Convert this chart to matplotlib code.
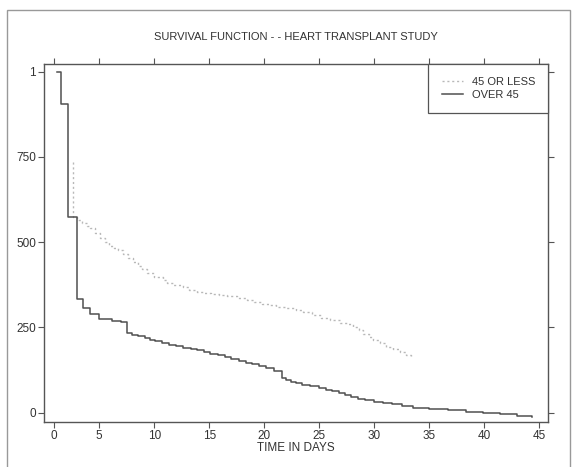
#
# Survival function plot -- heart transplant study (two age groups)
#

import matplotlib
matplotlib.use("Agg")
import matplotlib.pyplot as plt
from matplotlib.patches import Rectangle


# Kaplan-Meier style step data
# Age 45 or less (dotted line)
less45_days = [2.64, 2.64, 2.94, 3.4, 3.85, 4.2, 4.61, 5.06, 5.5, 5.9, 6.3, 6.73,
               7.2, 7.64, 8.1, 8.5, 8.9, 9.3, 10.0, 10.8, 11.2, 11.7, 12.6, 13.2,
               13.85, 14.5, 15.2, 15.9, 16.6, 17.5, 18.4, 19.1, 19.8, 20.5, 21.1,
               22.0, 22.9, 23.5, 24.3, 25.2, 26.0, 26.9, 27.5, 28.1, 28.6, 29.0,
               29.5, 29.9, 30.5, 31.1, 31.7, 32.3, 32.9, 33.3]
less45_surv = [0.736, 0.575, 0.566, 0.556, 0.548, 0.541, 0.526, 0.513, 0.50, 0.49,
               0.484, 0.477, 0.465, 0.453, 0.441, 0.43, 0.42, 0.409, 0.398, 0.389,
               0.381, 0.374, 0.368, 0.361, 0.355, 0.352, 0.349, 0.345, 0.342, 0.336,
               0.33, 0.325, 0.32, 0.315, 0.311, 0.306, 0.301, 0.296, 0.287, 0.277,
               0.271, 0.264, 0.259, 0.252, 0.243, 0.232, 0.222, 0.213, 0.204, 0.194,
               0.186, 0.179, 0.168, 0.16]

# Age over 45 (solid line)
over45_days = [1.13, 1.52, 2.13, 2.94, 3.55, 4.15, 5.0, 6.2, 7.0, 7.54, 8.0, 8.49,
               9.12, 9.6, 10.07, 10.7, 11.3, 12.0, 12.6, 13.3, 13.9, 14.5, 15.1,
               15.8, 16.4, 17.0, 17.7, 18.3, 18.9, 19.5, 20.2, 20.9, 21.6, 22.0,
               22.4, 22.9, 23.4, 24.2, 25.0, 25.6, 26.2, 26.8, 27.3, 27.9, 28.5,
               29.2, 30.0, 30.8, 31.6, 32.5, 33.5, 35.0, 36.7, 38.3, 39.9, 41.4,
               43.0, 44.3]
over45_surv = [1.0, 0.904, 0.575, 0.333, 0.306, 0.288, 0.274, 0.269, 0.266, 0.233,
               0.229, 0.226, 0.218, 0.214, 0.209, 0.204, 0.199, 0.195, 0.19, 0.187,
               0.183, 0.178, 0.173, 0.168, 0.162, 0.157, 0.152, 0.147, 0.142, 0.136,
               0.13, 0.122, 0.101, 0.096, 0.091, 0.087, 0.082, 0.077, 0.072, 0.067,
               0.0625, 0.057, 0.051, 0.046, 0.041, 0.036, 0.032, 0.028, 0.024,
               0.019, 0.014, 0.011, 0.007, 0.003, -0.001, -0.005, -0.009, -0.0115]

# Axis ticks (the old plotter put the "0" a little right of the axis)
xtick_pos = [0.9, 5, 10, 15, 20, 25, 30, 35, 40, 45]
xtick_labels = ["0", "5", "10", "15", "20", "25", "30", "35", "40", "45"]
ytick_pos = [0, 0.25, 0.5, 0.75, 1.0]
ytick_labels = ["0", "250", "500", "750", "1"]

plt.rcParams["font.family"] = ["Liberation Sans Narrow", "Liberation Sans", "DejaVu Sans"]

fig = plt.figure(figsize=(5.75, 4.67), dpi=100)
ax = fig.add_axes([0.077, 0.0964, 0.8766, 0.7666])

ax.step(less45_days, less45_surv, where="post", color="#b8b8b8",
        linewidth=1.0, linestyle=(0, (1.5, 2.0)), label="45 OR LESS")
ax.step(over45_days, over45_surv, where="post", color="#505050",
        linewidth=1.1, label="OVER 45")

ax.set_xlim(0, 45.82)
ax.set_ylim(-0.0273, 1.0226)

ax.set_xticks(xtick_pos)
ax.set_xticklabels(xtick_labels)
ax.set_yticks(ytick_pos)
ax.set_yticklabels(ytick_labels)
ax.tick_params(direction="out", length=4, width=0.8, color="#555555",
               labelsize=8.5, labelcolor="#333333", pad=2,
               top=True, right=True, labeltop=False, labelright=False)

for s in ax.spines.values():
    s.set_color("#555555")
    s.set_linewidth(1.0)

ax.set_title("SURVIVAL FUNCTION - - HEART TRANSPLANT STUDY", fontsize=8,
             color="#333333", pad=17)
ax.set_xlabel("TIME IN DAYS", fontsize=8.5, color="#333333", labelpad=0)

leg = ax.legend(loc="upper right", borderaxespad=0, fancybox=False,
                edgecolor="#555555", framealpha=1, fontsize=8,
                handlelength=1.9, borderpad=1.2, labelspacing=0.2,
                handletextpad=0.8)
leg.get_frame().set_linewidth(0.9)
for t in leg.get_texts():
    t.set_color("#333333")

# light frame around the whole page
fig.patches.append(Rectangle((0.012, -0.01), 0.98, 0.989, transform=fig.transFigure,
                             fill=False, edgecolor="#999999", linewidth=1.0))

plt.savefig("out.png", dpi=100)
